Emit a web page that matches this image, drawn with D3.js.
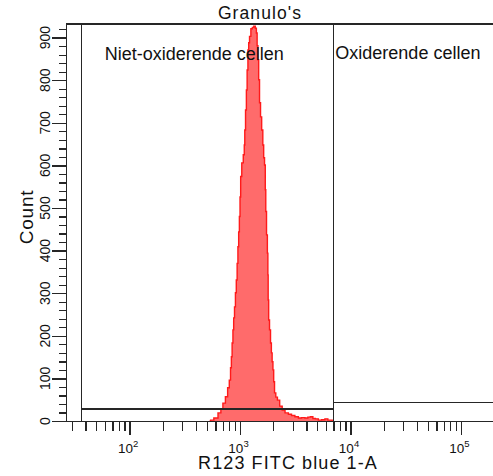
<!DOCTYPE html>
<html>
<head>
<meta charset="utf-8">
<script src="https://cdn.jsdelivr.net/npm/d3@7"></script>
<style>
  html, body { margin: 0; padding: 0; background: #ffffff; }
  svg { display: block; font-family: "Liberation Sans", Arial, sans-serif; }
  .axis path, .axis line { stroke: #262626; stroke-width: 1.3; shape-rendering: crispEdges; }
  .gate { stroke: #262626; stroke-width: 1.3; fill: none; shape-rendering: crispEdges; }
</style>
</head>
<body>
<div id="chart"></div>
<script>
const WIDTH = 493;
const HEIGHT = 476;
const MARGIN = { top: 24, right: 0, bottom: 55, left: 66 };

// Histogram: fluorescence channel and event count
const channel = [
  530, 554, 606, 659, 683, 717, 758, 787, 812, 829, 841, 855, 870, 882, 901, 916, 934,
  949, 965, 979, 994, 1006, 1021, 1053, 1087, 1098, 1110, 1133, 1150, 1169, 1189, 1206,
  1232, 1276, 1311, 1353, 1396, 1416, 1440, 1464, 1486, 1517, 1549, 1591, 1625, 1649,
  1684, 1701, 1719, 1755, 1781, 1792, 1803, 1830, 1868, 1908, 1936, 1969, 2002, 2031,
  2074, 2140, 2222, 2350, 2466, 2647, 2835, 3017, 3260, 3491, 3717, 4014, 4211, 4456,
  4674, 4944, 5297, 5638, 6090, 6390, 6760, 6900
];
const counts = [
  0, 2, 7, 19, 28, 42, 57, 78, 96, 125, 151, 183, 214, 242, 268, 301, 331,
  370, 409, 444, 480, 526, 574, 606, 625, 648, 683, 730, 777, 824, 871, 888,
  903, 921, 924, 927, 922, 911, 881, 848, 801, 747, 714, 683, 648, 618,
  601, 543, 492, 437, 394, 343, 284, 237, 214, 183, 160, 139, 120, 92,
  66, 56, 49, 35, 26, 19, 16, 13, 10, 7, 8, 7, 9, 10,
  6, 5, 2, 3, 5, 2, 2, 0
];

// Gates (marker ranges) on the fluorescence axis
const gateNames = ["Niet-oxiderende cellen", "Oxiderende cellen"];
const gateMin = [36.9, 6990];
const gateMax = [6990, 194800];
const gateLevel = [28, 43];

const X_DOMAIN = [26.6, 194800];
const Y_DOMAIN = [0, 932];
const X_DECADES = [2, 3, 4, 5];

const TITLE = "Granulo's";
const X_LABEL = "R123 FITC blue 1-A";
const Y_LABEL = "Count";

const svg = d3.select("#chart")
  .append("svg")
  .attr("width", WIDTH)
  .attr("height", HEIGHT)
  .attr("viewBox", `0 0 ${WIDTH} ${HEIGHT}`);

const x = d3.scaleLog()
  .domain(X_DOMAIN)
  .range([MARGIN.left, WIDTH - MARGIN.right]);

const y = d3.scaleLinear()
  .domain(Y_DOMAIN)
  .range([HEIGHT - MARGIN.bottom, MARGIN.top]);

const hist = channel.map((v, i) => ({ v, c: counts[i] }));

// —— Histogram ——
const area = d3.area()
  .x((d) => x(d.v))
  .y0(y(0))
  .y1((d) => y(d.c))
  .curve(d3.curveStep);

const line = d3.line()
  .x((d) => x(d.v))
  .y((d) => y(d.c))
  .curve(d3.curveStep);

svg.append("path")
  .datum(hist)
  .attr("d", area)
  .attr("fill", "#ff6b6b");

svg.append("path")
  .datum(hist)
  .attr("d", line)
  .attr("fill", "none")
  .attr("stroke", "#ff1a1a")
  .attr("stroke-width", 1.4);

// —— Gates ——
gateNames.forEach((name, i) => {
  const x0 = x(gateMin[i]);
  const x1 = Math.min(x(gateMax[i]), WIDTH - MARGIN.right);
  const yl = y(gateLevel[i]);

  svg.append("path")
    .attr("class", "gate")
    .attr("d", `M${x0},${y(0)}V${MARGIN.top}M${x0},${yl}H${x1}` +
      (x1 < WIDTH - MARGIN.right ? `M${x1},${y(0)}V${MARGIN.top}` : ""));
});

const gateLabelDx = [23, 2];
const gateLabelY = [59.5, 58.5];
svg.selectAll(".gate-label")
  .data(gateNames)
  .join("text")
  .attr("class", "gate-label")
  .attr("x", (d, i) => x(gateMin[i]) + gateLabelDx[i])
  .attr("y", (d, i) => gateLabelY[i])
  .attr("font-size", 18)
  .attr("fill", "#111")
  .text((d) => d);

// —— Frame top ——
svg.append("line")
  .attr("class", "gate")
  .attr("x1", MARGIN.left)
  .attr("x2", WIDTH)
  .attr("y1", MARGIN.top)
  .attr("y2", MARGIN.top);

// —— Y axis ——
const yMinor = d3.range(0, 921, 20);
const yMajor = d3.range(0, 901, 100);

svg.append("g")
  .attr("class", "axis")
  .attr("transform", `translate(${MARGIN.left},0)`)
  .call(d3.axisLeft(y).tickValues(yMinor).tickSize(7).tickSizeOuter(0).tickFormat(""));

svg.append("g")
  .attr("class", "axis")
  .attr("transform", `translate(${MARGIN.left},0)`)
  .call(d3.axisLeft(y).tickValues(yMajor).tickSize(14).tickSizeOuter(0).tickFormat(""))
  .select(".domain").remove();

svg.selectAll(".y-tick-label")
  .data(yMajor)
  .join("text")
  .attr("class", "y-tick-label")
  .attr("transform", (d) => `translate(50,${y(d)}) rotate(-90)`)
  .attr("text-anchor", "middle")
  .attr("font-size", 14)
  .attr("fill", "#111")
  .text((d) => d);

// —— X axis ——
const xMinor = [];
[10, 100, 1000, 10000, 100000].forEach((dec) => {
  for (let k = 1; k <= 9; k++) {
    const v = dec * k;
    if (v >= X_DOMAIN[0] && v <= X_DOMAIN[1]) xMinor.push(v);
  }
});
const xMajor = X_DECADES.map((e) => Math.pow(10, e));

svg.append("g")
  .attr("class", "axis")
  .attr("transform", `translate(0,${y(0)})`)
  .call(d3.axisBottom(x).tickValues(xMinor).tickSize(10).tickSizeOuter(0).tickFormat(""));

svg.append("g")
  .attr("class", "axis")
  .attr("transform", `translate(0,${y(0)})`)
  .call(d3.axisBottom(x).tickValues(xMajor).tickSize(14).tickSizeOuter(0).tickFormat(""))
  .select(".domain").remove();

const xLabels = svg.selectAll(".x-tick-label")
  .data(X_DECADES)
  .join("text")
  .attr("class", "x-tick-label")
  .attr("x", (e) => x(Math.pow(10, e)) - 1.5)
  .attr("y", 452.5)
  .attr("text-anchor", "middle")
  .attr("font-size", 13.5)
  .attr("fill", "#111");

xLabels.append("tspan").text("10");
xLabels.append("tspan")
  .attr("font-size", 9.5)
  .attr("dy", -6)
  .text((e) => e);

// —— Titles ——
svg.append("text")
  .attr("x", 260)
  .attr("y", 19.3)
  .attr("text-anchor", "middle")
  .attr("font-size", 17.5)
  .attr("letter-spacing", 1.1)
  .attr("fill", "#111")
  .text(TITLE);

svg.append("text")
  .attr("x", 288)
  .attr("y", 469)
  .attr("text-anchor", "middle")
  .attr("font-size", 18)
  .attr("letter-spacing", 1.1)
  .attr("fill", "#111")
  .text(X_LABEL);

svg.append("text")
  .attr("transform", "translate(33,217) rotate(-90)")
  .attr("text-anchor", "middle")
  .attr("font-size", 19)
  .attr("letter-spacing", 0.8)
  .attr("fill", "#111")
  .text(Y_LABEL);
</script>
</body>
</html>
